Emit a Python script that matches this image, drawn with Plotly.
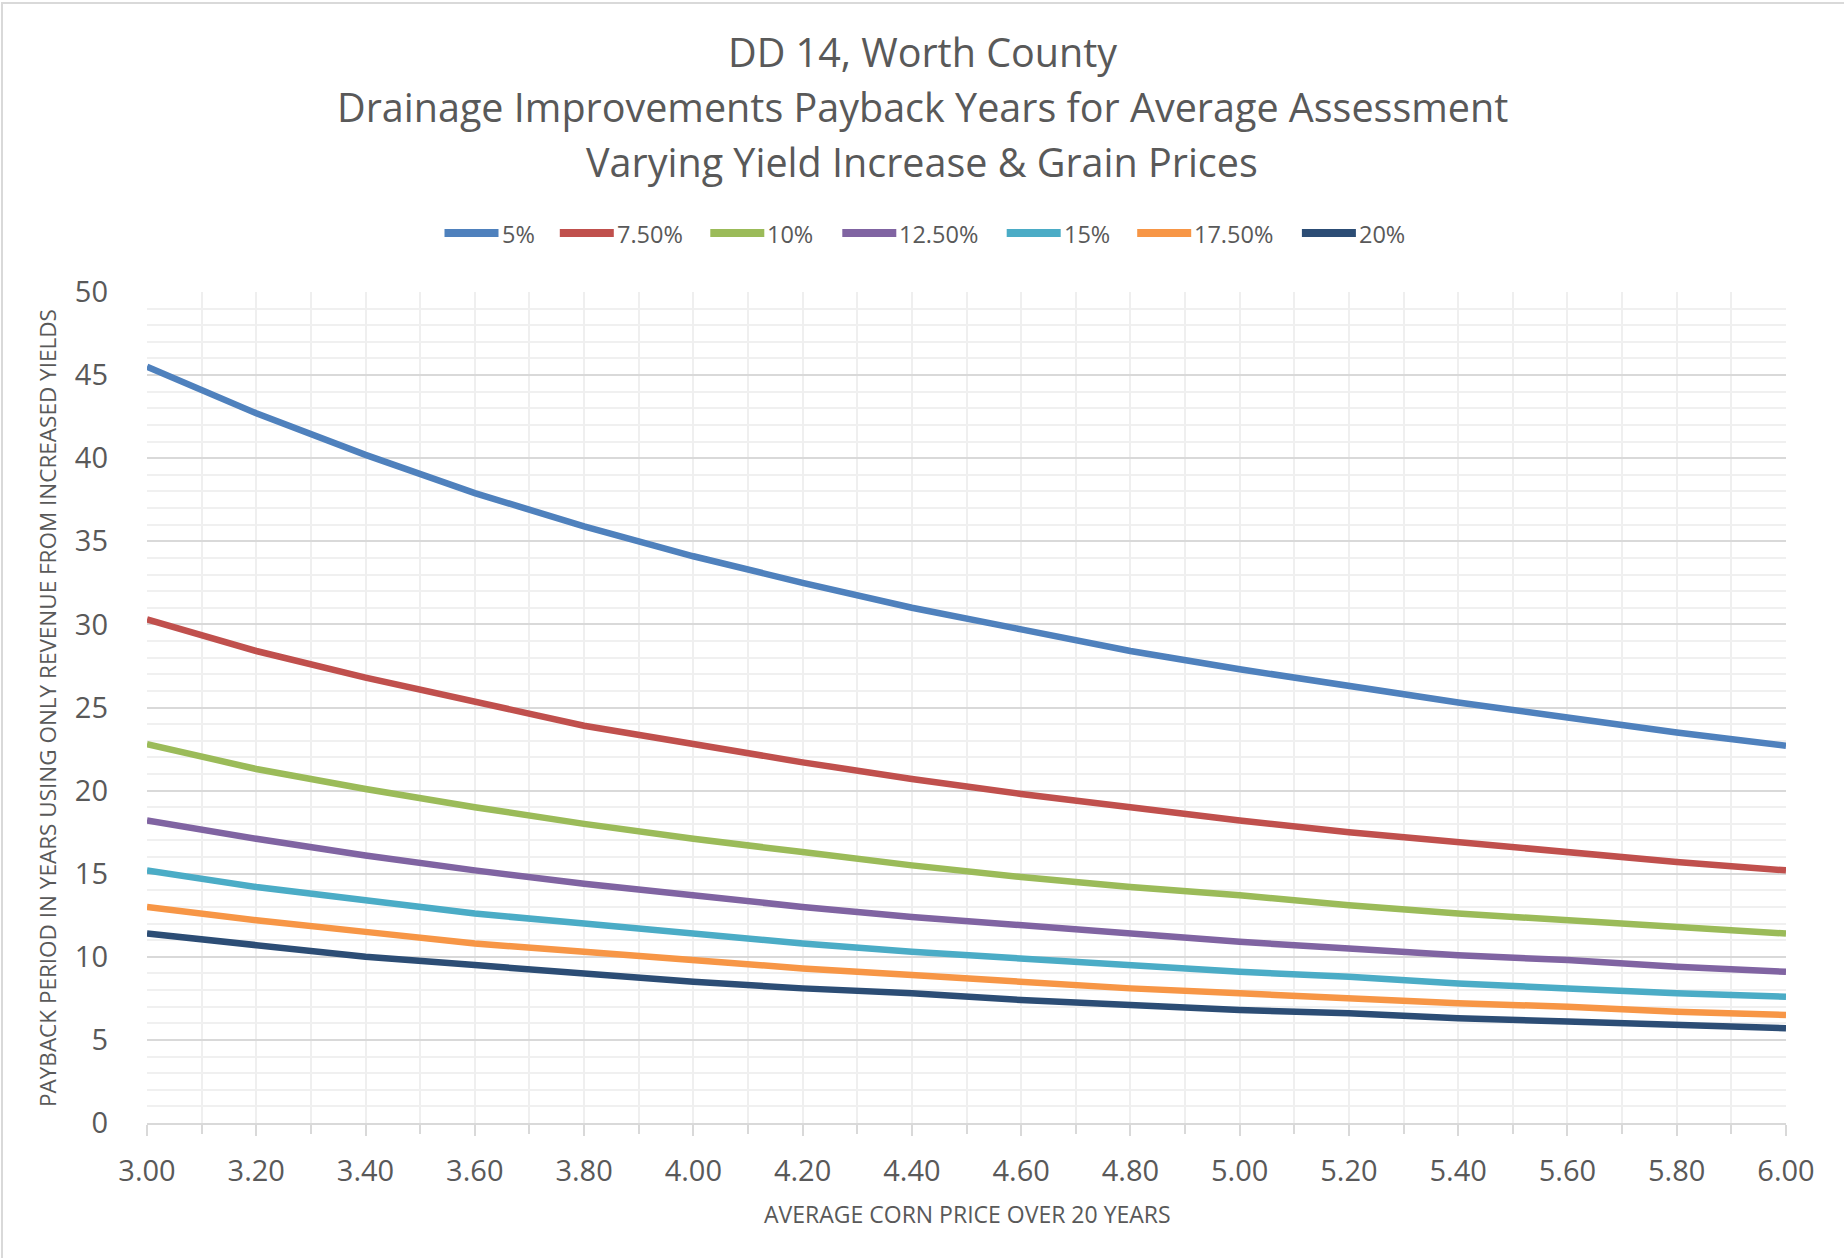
import plotly.graph_objects as go

# ---- data ----
prices = [3.00, 3.20, 3.40, 3.60, 3.80, 4.00, 4.20, 4.40, 4.60, 4.80,
          5.00, 5.20, 5.40, 5.60, 5.80, 6.00]

series_names = ["5%", "7.50%", "10%", "12.50%", "15%", "17.50%", "20%"]

y_5 = [45.5, 42.7, 40.2, 37.9, 35.9, 34.1, 32.5, 31.0, 29.7, 28.4, 27.3, 26.3, 25.3, 24.4, 23.5, 22.7]
y_7_5 = [30.3, 28.4, 26.8, 25.3, 23.9, 22.8, 21.7, 20.7, 19.8, 19.0, 18.2, 17.5, 16.9, 16.3, 15.7, 15.2]
y_10 = [22.8, 21.3, 20.1, 19.0, 18.0, 17.1, 16.3, 15.5, 14.8, 14.2, 13.7, 13.1, 12.6, 12.2, 11.8, 11.4]
y_12_5 = [18.2, 17.1, 16.1, 15.2, 14.4, 13.7, 13.0, 12.4, 11.9, 11.4, 10.9, 10.5, 10.1, 9.8, 9.4, 9.1]
y_15 = [15.2, 14.2, 13.4, 12.6, 12.0, 11.4, 10.8, 10.3, 9.9, 9.5, 9.1, 8.8, 8.4, 8.1, 7.8, 7.6]
y_17_5 = [13.0, 12.2, 11.5, 10.8, 10.3, 9.8, 9.3, 8.9, 8.5, 8.1, 7.8, 7.5, 7.2, 7.0, 6.7, 6.5]
y_20 = [11.4, 10.7, 10.0, 9.5, 9.0, 8.5, 8.1, 7.8, 7.4, 7.1, 6.8, 6.6, 6.3, 6.1, 5.9, 5.7]

series_values = [y_5, y_7_5, y_10, y_12_5, y_15, y_17_5, y_20]
colors = ["#4F81BD", "#C0504D", "#9BBB59", "#8064A2", "#4BACC6", "#F79646", "#2C4D75"]

title_lines = ["DD 14, Worth County",
               "Drainage Improvements Payback Years for Average Assessment",
               "Varying Yield Increase & Grain Prices"]
x_title = "AVERAGE CORN PRICE OVER 20 YEARS"
y_title = "PAYBACK PERIOD IN YEARS USING ONLY REVENUE FROM INCREASED YIELDS"

# ---- layout geometry (pixels) ----
W, H = 1844, 1258
L, R, T, B = 147, 58, 292, 135
PW, PH = W - L - R, H - T - B
FONT = "Open Sans"
TXT = "#595959"

# legend item left edges (pixels) and sample length
legend_starts = [444.5, 559.8, 710.3, 842.3, 1006.7, 1137.2, 1301.9]
LEG_LEN = 54
LEG_Y = 233


def px(xp):
    return (xp - L) / PW


def py(yp):
    return (H - B - yp) / PH


fig = go.Figure()
for name, vals, c in zip(series_names, series_values, colors):
    fig.add_trace(go.Scatter(x=prices, y=vals, name=name, mode="lines",
                             line=dict(color=c, width=6.5), showlegend=False))

annotations = []
shapes = [dict(type="rect", xref="paper", yref="paper",
               x0=px(2), x1=px(1900), y0=py(1300), y1=py(3),
               line=dict(color="#d9d9d9", width=2), layer="below")]

for txt, ycen in zip(title_lines, [52, 107, 162]):
    annotations.append(dict(text=txt, xref="paper", yref="paper", x=px(922), y=py(ycen),
                            xanchor="center", yanchor="middle", showarrow=False,
                            font=dict(family=FONT, size=39.5, color=TXT)))
annotations.append(dict(text=x_title, xref="paper", yref="paper", x=px(967), y=py(1214),
                        xanchor="center", yanchor="middle", showarrow=False,
                        font=dict(family=FONT, size=23, color=TXT)))
annotations.append(dict(text=y_title, xref="paper", yref="paper", x=px(47), y=py(708),
                        xanchor="center", yanchor="middle", showarrow=False, textangle=-90,
                        font=dict(family=FONT, size=22.5, color=TXT)))

# custom legend (long samples like the reference)
for name, c, x0 in zip(series_names, colors, legend_starts):
    shapes.append(dict(type="line", xref="paper", yref="paper",
                       x0=px(x0), x1=px(x0 + LEG_LEN), y0=py(LEG_Y), y1=py(LEG_Y),
                       line=dict(color=c, width=8)))
    annotations.append(dict(text=name, xref="paper", yref="paper",
                            x=px(x0 + LEG_LEN + 1), y=py(LEG_Y + 1),
                            xanchor="left", yanchor="middle", showarrow=False,
                            font=dict(family=FONT, size=23.5, color=TXT)))

fig.update_layout(
    width=W, height=H,
    margin=dict(l=L, r=R, t=T, b=B, autoexpand=False),
    paper_bgcolor="white", plot_bgcolor="white",
    font=dict(family=FONT, color=TXT),
    showlegend=False,
    annotations=annotations,
    shapes=shapes,
    xaxis=dict(range=[3, 6], dtick=0.2, tick0=3, tickformat=".2f",
               showgrid=True, gridcolor="#efefef", gridwidth=1.5,
               showline=True, linecolor="#d9d9d9", linewidth=2,
               ticks="outside", ticklen=11, tickcolor="#d9d9d9", tickwidth=1.5,
               ticklabelstandoff=10,
               tickfont=dict(family=FONT, size=29, color=TXT),
               minor=dict(dtick=0.1, tick0=3, showgrid=True, gridcolor="#efefef",
                          gridwidth=1.5, ticks="outside", ticklen=9, tickcolor="#d9d9d9"),
               zeroline=False, fixedrange=True),
    yaxis=dict(range=[0, 50], dtick=5, tick0=0,
               showgrid=True, gridcolor="#d9d9d9", gridwidth=1.5,
               showline=False, ticks="", ticklabelstandoff=38,
               tickfont=dict(family=FONT, size=29, color=TXT),
               minor=dict(dtick=1, showgrid=True, gridcolor="#f0f0f0", gridwidth=1.5),
               zeroline=False, fixedrange=True),
)

fig.write_html("out.html", config={"displayModeBar": False},
               post_script="document.body.style.margin='0px';")
